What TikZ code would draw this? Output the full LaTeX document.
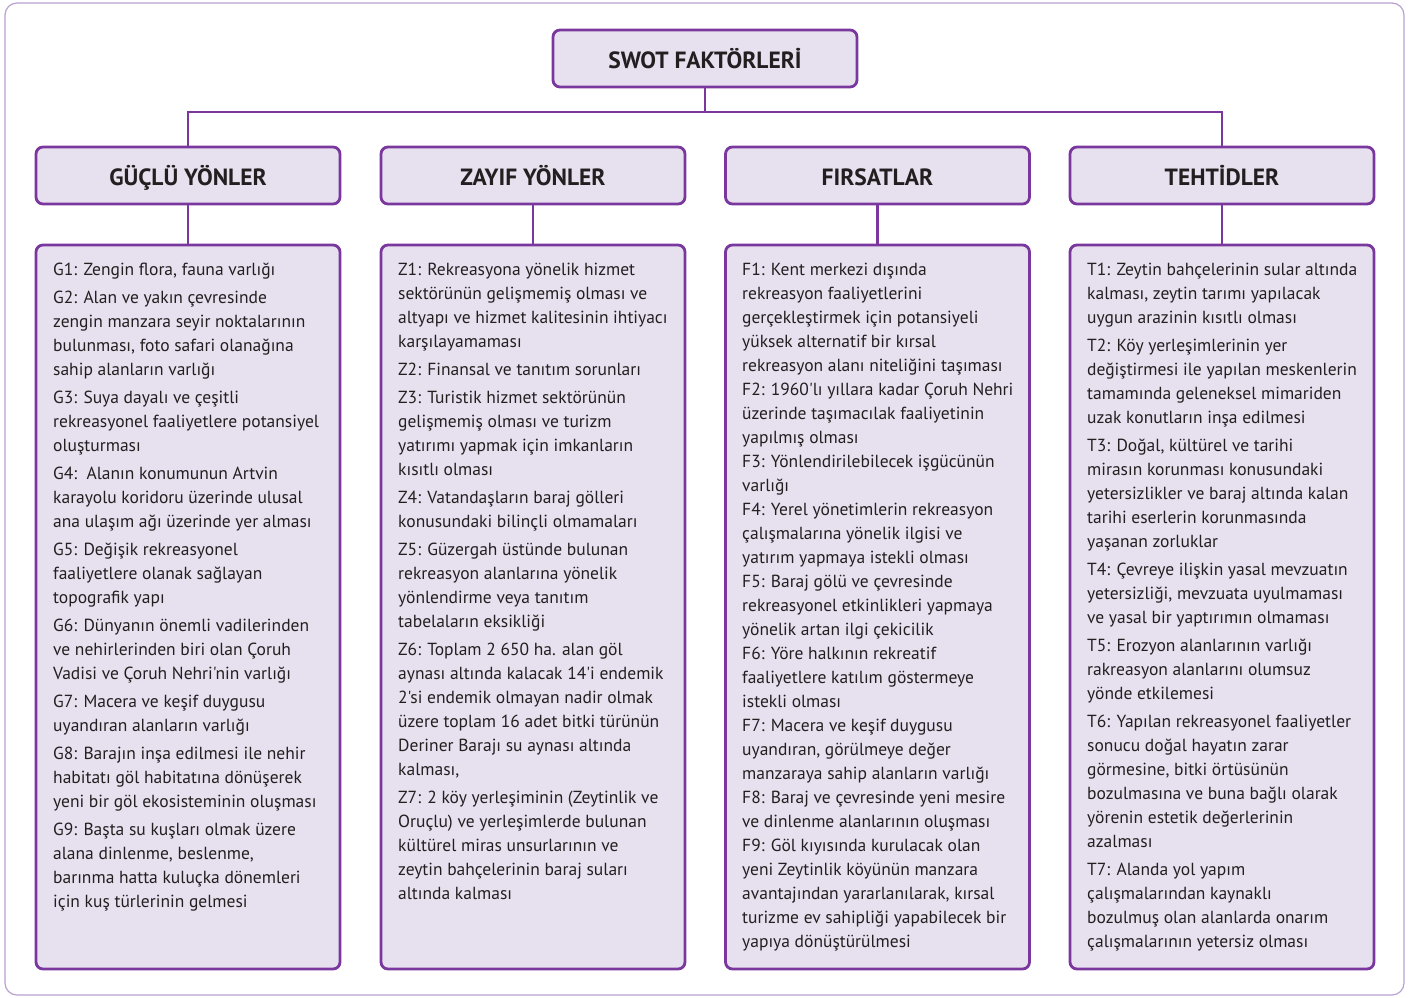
\documentclass[tikz,border=0pt]{standalone}
\usepackage{fontspec}
\setmainfont{PT Sans}[Ligatures=TeXOff]
\definecolor{purp}{RGB}{122,56,158}
\definecolor{lav}{RGB}{231,225,239}
\definecolor{framec}{RGB}{184,160,208}
\definecolor{ink}{RGB}{35,31,32}
\begin{document}
\begin{tikzpicture}[x=1pt,y=-1pt,
  boxst/.style={draw=purp,fill=lav,line width=2.8pt,rounded corners=7pt,rectangle,inner sep=0pt},
  headst/.style={boxst,minimum width=304pt,minimum height=57pt,text=ink,text height=21pt,text depth=2pt,font=\fontsize{23.5}{27}\selectfont\bfseries},
  bodyst/.style={boxst,minimum width=304pt,minimum height=724pt},
  txtst/.style={anchor=north west,inner sep=0pt,align=left,text=ink,font=\fontsize{17.5}{24}\selectfont},
  conn/.style={draw=purp,line width=2.8pt}]
\useasboundingbox (0,0) rectangle (1414,997);
\draw[draw=framec,line width=1.2pt,rounded corners=12pt] (5,3) rectangle (1404,995);
\node[headst] (swot) at (705,58.5) {SWOT FAKTÖRLERİ};
\coordinate (bus) at (705,112);
\node[headst] (hG) at (188,175.5) {GÜÇLÜ YÖNLER};
\node[headst] (hZ) at (533,175.5) {ZAYIF YÖNLER};
\node[headst] (hF) at (877.5,175.5) {FIRSATLAR};
\node[headst] (hT) at (1222,175.5) {TEHTİDLER};
\node[bodyst] (bG) at (188,607) {};
\node[bodyst] (bZ) at (533,607) {};
\node[bodyst] (bF) at (877.5,607) {};
\node[bodyst] (bT) at (1222,607) {};
\draw[conn] (swot.south) -- (bus);
\draw[conn] (hG.north) |- (bus);
\draw[conn] (hT.north) |- (bus);
\draw[conn] (hG) -- (bG);
\draw[conn] (hZ) -- (bZ);
\draw[conn] (hF) -- (bF);
\draw[conn] (hT) -- (bT);
\node[txtst] (tG) at (53,262.5) {G1: Zengin flora, fauna varlığı\\[4pt]
G2: Alan ve yakın çevresinde\\ zengin manzara seyir noktalarının\\ bulunması, foto safari olanağına\\ sahip alanların varlığı\\[4pt]
G3: Suya dayalı ve çeşitli\\ rekreasyonel faaliyetlere potansiyel\\ oluşturması\\[4pt]
G4:\ \ Alanın konumunun Artvin\\ karayolu koridoru üzerinde ulusal\\ ana ulaşım ağı üzerinde yer alması\\[4pt]
G5: Değişik rekreasyonel\\ faaliyetlere olanak sağlayan\\ topografik yapı\\[4pt]
G6: Dünyanın önemli vadilerinden\\ ve nehirlerinden biri olan Çoruh\\ Vadisi ve Çoruh Nehri'nin varlığı\\[4pt]
G7: Macera ve keşif duygusu\\ uyandıran alanların varlığı\\[4pt]
G8: Barajın inşa edilmesi ile nehir\\ habitatı göl habitatına dönüşerek\\ yeni bir göl ekosisteminin oluşması\\[4pt]
G9: Başta su kuşları olmak üzere\\ alana dinlenme, beslenme,\\ barınma hatta kuluçka dönemleri\\ için kuş türlerinin gelmesi};
\node[txtst] (tZ) at (398,262.5) {Z1: Rekreasyona yönelik hizmet\\ sektörünün gelişmemiş olması ve\\ altyapı ve hizmet kalitesinin ihtiyacı\\ karşılayamaması\\[4pt]
Z2: Finansal ve tanıtım sorunları\\[4pt]
Z3: Turistik hizmet sektörünün\\ gelişmemiş olması ve turizm\\ yatırımı yapmak için imkanların\\ kısıtlı olması\\[4pt]
Z4: Vatandaşların baraj gölleri\\ konusundaki bilinçli olmamaları\\[4pt]
Z5: Güzergah üstünde bulunan\\ rekreasyon alanlarına yönelik\\ yönlendirme veya tanıtım\\ tabelaların eksikliği\\[4pt]
Z6: Toplam 2 650 ha. alan göl\\ aynası altında kalacak 14'i endemik\\ 2'si endemik olmayan nadir olmak\\ üzere toplam 16 adet bitki türünün\\ Deriner Barajı su aynası altında\\ kalması,\\[4pt]
Z7: 2 köy yerleşiminin (Zeytinlik ve\\ Oruçlu) ve yerleşimlerde bulunan\\ kültürel miras unsurlarının ve\\ zeytin bahçelerinin baraj suları\\ altında kalması};
\node[txtst] (tF) at (742,262.5) {F1: Kent merkezi dışında\\ rekreasyon faaliyetlerini\\ gerçekleştirmek için potansiyeli\\ yüksek alternatif bir kırsal\\ rekreasyon alanı niteliğini taşıması\\
F2: 1960'lı yıllara kadar Çoruh Nehri\\ üzerinde taşımacılak faaliyetinin\\ yapılmış olması\\
F3: Yönlendirilebilecek işgücünün\\ varlığı\\
F4: Yerel yönetimlerin rekreasyon\\ çalışmalarına yönelik ilgisi ve\\ yatırım yapmaya istekli olması\\
F5: Baraj gölü ve çevresinde\\ rekreasyonel etkinlikleri yapmaya\\ yönelik artan ilgi çekicilik\\
F6: Yöre halkının rekreatif\\ faaliyetlere katılım göstermeye\\ istekli olması\\
F7: Macera ve keşif duygusu\\ uyandıran, görülmeye değer\\ manzaraya sahip alanların varlığı\\
F8: Baraj ve çevresinde yeni mesire\\ ve dinlenme alanlarının oluşması\\
F9: Göl kıyısında kurulacak olan\\ yeni Zeytinlik köyünün manzara\\ avantajından yararlanılarak, kırsal\\ turizme ev sahipliği yapabilecek bir\\ yapıya dönüştürülmesi};
\node[txtst] (tT) at (1087,262.5) {T1: Zeytin bahçelerinin sular altında\\ kalması, zeytin tarımı yapılacak\\ uygun arazinin kısıtlı olması\\[4pt]
T2: Köy yerleşimlerinin yer\\ değiştirmesi ile yapılan meskenlerin\\ tamamında geleneksel mimariden\\ uzak konutların inşa edilmesi\\[4pt]
T3: Doğal, kültürel ve tarihi\\ mirasın korunması konusundaki\\ yetersizlikler ve baraj altında kalan\\ tarihi eserlerin korunmasında\\ yaşanan zorluklar\\[4pt]
T4: Çevreye ilişkin yasal mevzuatın\\ yetersizliği, mevzuata uyulmaması\\ ve yasal bir yaptırımın olmaması\\[4pt]
T5: Erozyon alanlarının varlığı\\ rakreasyon alanlarını olumsuz\\ yönde etkilemesi\\[4pt]
T6: Yapılan rekreasyonel faaliyetler\\ sonucu doğal hayatın zarar\\ görmesine, bitki örtüsünün\\ bozulmasına ve buna bağlı olarak\\ yörenin estetik değerlerinin\\ azalması\\[4pt]
T7: Alanda yol yapım\\ çalışmalarından kaynaklı\\ bozulmuş olan alanlarda onarım\\ çalışmalarının yetersiz olması};
\end{tikzpicture}
\end{document}
